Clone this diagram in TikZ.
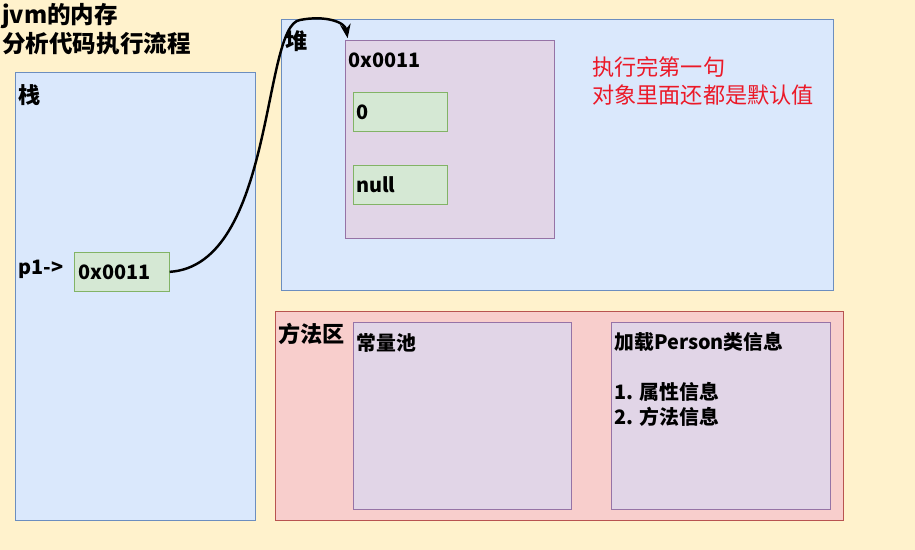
\documentclass[tikz,border=0pt]{standalone}
\usepackage{fontspec}
\setmainfont{Noto Sans CJK SC}
\usetikzlibrary{arrows.meta}
\definecolor{bgyellow}{HTML}{FFF2CC}
\definecolor{bluefill}{HTML}{DAE8FC}
\definecolor{bluedraw}{HTML}{6C8EBF}
\definecolor{purplefill}{HTML}{E1D5E7}
\definecolor{purpledraw}{HTML}{9673A6}
\definecolor{greenfill}{HTML}{D5E8D4}
\definecolor{greendraw}{HTML}{82B366}
\definecolor{redfill}{HTML}{F8CECC}
\definecolor{reddraw}{HTML}{B85450}
\definecolor{notered}{RGB}{235,25,40}
\tikzset{
    area/.style={draw=bluedraw, fill=bluefill, anchor=north west, inner sep=0pt},
    objbox/.style={draw=purpledraw, fill=purplefill, anchor=north west, inner sep=0pt},
    slot/.style={draw=greendraw, fill=greenfill, anchor=north west, inner sep=0pt,
        minimum width=1.88cm, minimum height=0.78cm},
    txt/.style={anchor=base west, inner sep=0pt, font=\bfseries\fontsize{11.3}{13}\selectfont},
    bigtxt/.style={anchor=base west, inner sep=0pt, font=\bfseries\fontsize{12.6}{14}\selectfont}
}
\begin{document}
\begin{tikzpicture}[x=0.02cm, y=-0.02cm]
    \fill[bgyellow] (0,0) rectangle (915,550);
    \node[anchor=base west, inner sep=0pt, font=\bfseries\fontsize{13.4}{15}\selectfont] (title1) at (2,24) {jvm的内存};
    \node[anchor=base west, inner sep=0pt, font=\bfseries\fontsize{13.4}{15}\selectfont] (title2) at (2,53) {分析代码执行流程};

    \node[area, minimum width=4.8cm, minimum height=8.96cm] (stack) at (15,72) {};
    \node[bigtxt] (stacklbl) at (18,104) {栈};
    \node[txt] (p1) at (18,275) {p1->};
    \node[slot, minimum width=1.9cm] (ref) at (74,252) {};
    \node[txt] (reflbl) at (78,279) {0x0011};

    \node[area, minimum width=11.04cm, minimum height=5.42cm] (heap) at (281,19) {};
    \node[bigtxt] (heaplbl) at (285,50) {堆};
    \node[objbox, minimum width=4.18cm, minimum height=3.96cm] (obj) at (345,40) {};
    \node[txt] (objlbl) at (348,68) {0x0011};
    \node[slot] (age) at (353,92) {};
    \node[txt] (agelbl) at (356,120) {0};
    \node[slot] (name) at (353,165) {};
    \node[txt] (namelbl) at (356,193) {null};
    \node[anchor=base west, inner sep=0pt, text=notered, font=\fontsize{12.6}{14}\selectfont] (note1) at (592,76) {执行完第一句};
    \node[anchor=base west, inner sep=0pt, text=notered, font=\fontsize{12.6}{14}\selectfont] (note2) at (592,104) {对象里面还都是默认值};

    \node[draw=reddraw, fill=redfill, anchor=north west, inner sep=0pt,
        minimum width=11.36cm, minimum height=4.18cm] (method) at (275,311) {};
    \node[bigtxt] (methodlbl) at (278,342) {方法区};
    \node[objbox, minimum width=4.36cm, minimum height=3.74cm] (pool) at (353,322) {};
    \node[txt] (poollbl) at (356,350) {常量池};
    \node[objbox, minimum width=4.38cm, minimum height=3.74cm] (cls) at (611,322) {};
    \node[txt] (clslbl) at (614,349) {加载Person类信息};
    \node[txt] (attr) at (614,399) {1. 属性信息};
    \node[txt] (meth) at (614,424) {2. 方法信息};

    \draw[line width=1.4pt, -{Stealth[length=8pt, width=6pt]}] (ref.east)
        .. controls (275,265) and (262,25) .. (300,20)
        .. controls (325,15) and (345,22) .. ([xshift=1.5pt, yshift=1pt]obj.north west);
\end{tikzpicture}
\end{document}
